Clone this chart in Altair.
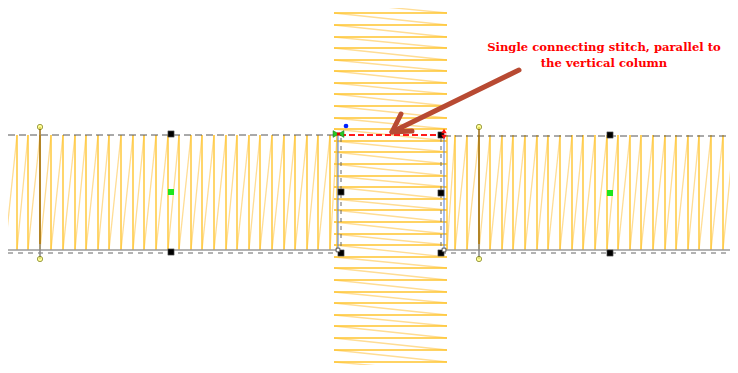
import altair as alt
import pandas as pd

# ---- geometry (screen pixels) ----
left_band_x = [5, 17, 28, 40, 51, 63, 75, 86, 98, 109, 121, 133, 144, 156, 168, 179, 191,
               202, 214, 226, 237, 249, 260, 272, 284, 295, 307, 318, 330, 337]
right_band_x = [447, 455, 467, 479, 490, 502, 513, 525, 537, 548, 560, 572, 583, 595, 607,
                618, 630, 641, 653, 665, 676, 688, 699, 711, 723, 734, 746]
column_y = [2, 13, 25, 37, 48, 60, 71, 83, 94, 106, 118, 129, 141, 152, 164, 176, 187, 199,
            210, 222, 234, 245, 257, 268, 280, 292, 303, 315, 326, 338, 350, 362, 372]
band_top, band_bottom = 135, 250
column_left, column_right = 334, 447

handle_x = [40, 479]
handle_top, handle_bottom = 127, 259
black_sq_x = [171, 171, 610, 610, 341, 441, 341, 441, 441]
black_sq_y = [134, 252, 135, 253, 192, 193, 253, 253, 135]
green_sq_x = [171, 610]
green_sq_y = [192, 193]
blue_dot = (346, 126)
arrow_tail = (519, 70)
arrow_tip = (392, 132)
label_lines = ["Single connecting stitch, parallel to", "the vertical column"]
label_x = 604
label_y = [48, 64]

# ---- build tables ----
segs = []
def band(xs):
    for i, x in enumerate(xs):
        segs.append(dict(x=x, y=band_top, x2=x, y2=band_bottom, kind="main"))
        if i + 1 < len(xs):
            segs.append(dict(x=x, y=band_bottom, x2=xs[i + 1], y2=band_top, kind="slant"))
band(left_band_x)
band(right_band_x)
for i, yv in enumerate(column_y):
    if 0 < i < len(column_y) - 1:
        segs.append(dict(x=column_left, y=yv, x2=column_right, y2=yv, kind="main"))
    if i + 1 < len(column_y):
        segs.append(dict(x=column_left, y=yv, x2=column_right, y2=column_y[i + 1], kind="slant"))
stitch_df = pd.DataFrame(segs)

# the visible page area (inside the 8px body margin)
xs = alt.Scale(domain=[8, 730], nice=False, zero=False)
ys = alt.Scale(domain=[8, 365], nice=False, zero=False, reverse=True)

def X(f="x"):
    return alt.X(f + ":Q", scale=xs, axis=None)
def Y(f="y"):
    return alt.Y(f + ":Q", scale=ys, axis=None)

def rules(df, **kw):
    return alt.Chart(df).mark_rule(clip=True, **kw).encode(
        x=X(), y=Y(), x2="x2:Q", y2="y2:Q")

slants = rules(stitch_df[stitch_df.kind == "slant"], color="#FFDD94", strokeWidth=1.3)
mains = rules(stitch_df[stitch_df.kind == "main"], color="#FFC52E", strokeWidth=1.4)

# guide lines
top_dash = rules(pd.DataFrame([dict(x=8, y=band_top, x2=338, y2=band_top),
                               dict(x=444, y=band_top + 1, x2=738, y2=band_top + 1)]),
                 color="#555555", strokeDash=[7, 4], strokeWidth=1)
bottom_solid = rules(pd.DataFrame([dict(x=8, y=band_bottom, x2=338, y2=band_bottom),
                                   dict(x=444, y=band_bottom, x2=738, y2=band_bottom)]),
                     color="#9a9a9a", strokeWidth=1.5)
bottom_dash = rules(pd.DataFrame([dict(x=8, y=band_bottom + 3, x2=340, y2=band_bottom + 3),
                                  dict(x=441, y=band_bottom + 3, x2=738, y2=band_bottom + 3)]),
                    color="#666666", strokeDash=[5, 5], strokeWidth=1)
col_blue = rules(pd.DataFrame([dict(x=338, y=band_top, x2=338, y2=band_bottom),
                               dict(x=444, y=band_top, x2=444, y2=band_bottom)]),
                 color="#4f7fe0", strokeWidth=1)
col_dash = rules(pd.DataFrame([dict(x=341, y=band_top + 3, x2=341, y2=band_bottom),
                               dict(x=441, y=band_top + 3, x2=441, y2=band_bottom)]),
                 color="#666666", strokeDash=[4, 4], strokeWidth=1)
red_dash = rules(pd.DataFrame([dict(x=340, y=band_top, x2=443, y2=band_top)]),
                 color="#ff1a1a", strokeDash=[6, 3], strokeWidth=2)

handles = rules(pd.DataFrame([dict(x=hx, y=handle_top, x2=hx, y2=band_bottom - 6) for hx in handle_x]),
                color="#9a6a10", strokeWidth=1.5)
handles_low = rules(pd.DataFrame([dict(x=hx, y=band_bottom - 6, x2=hx, y2=handle_bottom) for hx in handle_x]),
                    color="#888888", strokeWidth=1.5)
circ_df = pd.DataFrame([dict(x=hx, y=hy) for hx in handle_x for hy in (handle_top, handle_bottom)])
circles = alt.Chart(circ_df).mark_point(shape="circle", filled=True, size=28, color="#ffff66",
                                        stroke="#777700", strokeWidth=1).encode(x=X(), y=Y())

blk = alt.Chart(pd.DataFrame(dict(x=black_sq_x, y=black_sq_y))).mark_square(
    size=40, color="#000000", stroke="#888888", strokeWidth=0.5, opacity=1).encode(x=X(), y=Y())
grn = alt.Chart(pd.DataFrame(dict(x=green_sq_x, y=green_sq_y))).mark_square(
    size=36, color="#1ee61e", opacity=1).encode(x=X(), y=Y())
white_sq = alt.Chart(pd.DataFrame(dict(x=[338, 444], y=[250, 250]))).mark_square(
    size=14, color="#ffffff", stroke="#333333", strokeWidth=0.8, filled=True, opacity=1).encode(x=X(), y=Y())
bdot = alt.Chart(pd.DataFrame(dict(x=[blue_dot[0]], y=[blue_dot[1]]))).mark_circle(
    size=22, color="#0022ff", opacity=1).encode(x=X(), y=Y())

# start / end markers of the connecting stitch
start_df = pd.DataFrame(dict(x=[336, 341], y=[134, 134], shp=["triangle-right", "triangle-left"]))
start_mk = alt.Chart(start_df).mark_point(filled=True, size=45, color="#22cc22", stroke="#117711",
                                          strokeWidth=0.6, opacity=1).encode(
    x=X(), y=Y(), shape=alt.Shape("shp:N", scale=None))
start_c = alt.Chart(pd.DataFrame(dict(x=[338.5], y=[134]))).mark_square(
    size=10, color="#dd0000", opacity=1).encode(x=X(), y=Y())
end_df = pd.DataFrame(dict(x=[444, 444], y=[131, 137], shp=["triangle-up", "triangle-down"]))
end_mk = alt.Chart(end_df).mark_point(filled=True, size=30, color="#ff1010", opacity=1).encode(
    x=X(), y=Y(), shape=alt.Shape("shp:N", scale=None))

# arrow
tx, ty = arrow_tip
arrow_df = pd.DataFrame([dict(x=arrow_tail[0], y=arrow_tail[1], x2=tx + 3, y2=ty - 1.5),
                         dict(x=tx, y=ty, x2=tx + 9, y2=ty - 18),
                         dict(x=tx, y=ty, x2=tx + 20, y2=ty - 1)])
arrow = alt.Chart(arrow_df).mark_rule(color="#b84a32", strokeWidth=5, strokeCap="round").encode(
    x=X(), y=Y(), x2="x2:Q", y2="y2:Q")

label = alt.Chart(pd.DataFrame(dict(x=[label_x] * 2, y=label_y, t=label_lines))).mark_text(
    font="DejaVu Serif", fontWeight="bold", fontSize=11.6, color="#ff0000", align="center",
    baseline="middle").encode(x=X(), y=Y(), text="t:N")

chart = alt.layer(
    slants, mains, top_dash, bottom_solid, bottom_dash, col_blue, col_dash, red_dash,
    handles, handles_low, circles, blk, grn, white_sq, bdot, start_mk, start_c, end_mk,
    arrow, label
).properties(
    width=722, height=357, padding=0, autosize=alt.AutoSizeParams(type="none"),
    background="#ffffff"
).configure_view(stroke=None)

chart.save("out.html", embed_options={"renderer": "svg", "actions": False})
